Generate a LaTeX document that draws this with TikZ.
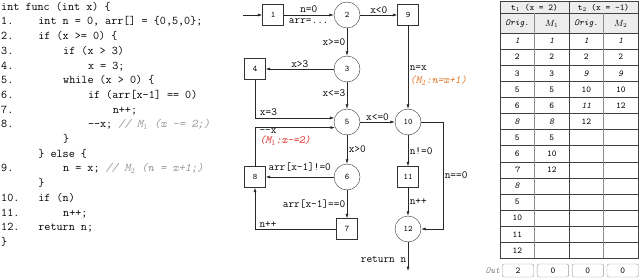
\documentclass[tikz,border=0pt]{standalone}
\usepackage{amsmath, amssymb}
\usepackage{tikz}
\usetikzlibrary{calc}
\usetikzlibrary{positioning}
\usetikzlibrary{arrows.meta}
\usepackage{xcolor}
\definecolor{cmt}{gray}{0.6}
\definecolor{mone}{HTML}{E0302A}
\definecolor{mtwo}{HTML}{E0782A}

\begin{document}
\begin{tikzpicture}[
	x=1pt, y=-1pt,
	>={Latex[length=4.5pt, width=3pt]},
	c/.style={circle, draw=black!80, thin, minimum size=26, inner sep=0, font=\fontsize{8.5}{9}\selectfont\ttfamily},
	b/.style={rectangle, draw=black!80, thin, minimum size=21, inner sep=0, font=\fontsize{8.5}{9}\selectfont\ttfamily},
	l/.style={inner sep=1.5, font=\fontsize{11}{12}\selectfont\ttfamily},
	code/.style={anchor=base west, inner sep=0, font=\fontsize{11.8}{14}\selectfont\ttfamily},
	e/.style={->, line width=0.6, draw=black!85},
	tl/.style={line width=0.6, draw=black!75},
	cell/.style={inner sep=0, font=\fontsize{9}{10}\selectfont\ttfamily},
	outbox/.style={rectangle, rounded corners=2, draw=black!40, minimum width=31.5, minimum height=13, inner sep=0, font=\fontsize{9}{10}\selectfont\ttfamily},
	]
	\useasboundingbox (0,0) rectangle (639,278);
	
	%Code
	\foreach \n/\r in {1/1, 2/2, 3/3, 4/4, 5/5, 6/6, 7/7, 8/8, 9/11, 10/13, 11/14, 12/15}
		\node[code] (num\n) at (1, {10.2+14.7*\r}) {\n.};
	\node[code] (cl0)  at (1,10.2)      {int func (int x) \{};
	\node[code] (cl1)  at (38.2,24.9)   {int n = 0, arr[] = \{0,5,0\};};
	\node[code] (cl2)  at (38.2,39.6)   {if (x >= 0) \{};
	\node[code] (cl3)  at (63,54.3)     {if (x > 3)};
	\node[code] (cl4)  at (87.8,69)     {x = 3;};
	\node[code] (cl5)  at (63,83.7)     {while (x > 0) \{};
	\node[code] (cl6)  at (87.8,98.4)   {if (arr[x-1] == 0)};
	\node[code] (cl7)  at (112.6,113.1) {n++;};
	\node[code] (cl8)  at (87.8,127.8)  {-{}-x; {\color{cmt}\itshape // M$_1$ (x -= 2;)}};
	\node[code] (cl9)  at (63,142.5)    {\}};
	\node[code] (cl10) at (38.2,157.2)  {\} else \{};
	\node[code] (cl11) at (63,171.9)    {n = x; {\color{cmt}\itshape // M$_2$ (n = x+1;)}};
	\node[code] (cl12) at (38.2,186.6)  {\}};
	\node[code] (cl13) at (38.2,201.3)  {if (n)};
	\node[code] (cl14) at (63,216)      {n++;};
	\node[code] (cl15) at (38.2,230.7)  {return n;};
	\node[code] (cl16) at (1,245.4)     {\}};
	
	%Nodes
	\node[b]    (b1)    at (273,15)     {1};
	\node[c]    (c2)    at (347,15)     {2};
	\node[b]    (b9)    at (408,15)     {9};
	\node[c]    (c3)    at (347,69)     {3};
	\node[b]    (b4)    at (255,69)     {4};
	\node[c]    (c5)    at (347,122)    {5};
	\node[c]    (c10)   at (408,122)    {10};
	\node[c]    (c6)    at (347,177)    {6};
	\node[b]    (b8)    at (255,177)    {8};
	\node[b]    (b7)    at (347,229)    {7};
	\node[b]    (b11)   at (408,177)    {11};
	\node[c]    (c12)   at (408,229)    {12};
	\coordinate (start) at (243,15);
	\coordinate (side)  at (443,122);
	\coordinate (end)   at (408,271);
	
	%Lines
	\draw[e] (start) to (b1);
	\draw[e] (b1)  to node[l, above=1pt] {n=0} node[l, below=1.5pt] {arr=...} (c2);
	\draw[e] (c2)  to node[l, above] {x<0}  (b9);
	\draw[e] (c2)  to node[l, left]  {x>=0} (c3);
	\draw[e] (c3)  to node[l, above] {x>3}  (b4);
	\draw[e] (c3)  to node[l, left, pos=0.4] {x<=3} (c5);
	\draw[e] (b4.south) |- node[l, above right, pos=0.52] {x=3} (c5.162);
	\draw[e] (b8.north) |- node[l, below right, pos=0.52, align=left, inner sep=1] {-{}-x\\[-2pt]{\color{mone}\itshape (M$_1$:x-=2)}} (c5.205);
	\draw[e] (c5)  to node[l, above] {x<=0} (c10);
	\draw[e] (b9)  to node[l, right, pos=0.6, align=left] {n=x\\[1pt]{\color{mtwo}\itshape (M$_2$:n=x+1)}} (c10);
	\draw[e] (c5)  to node[l, right] {x>0} (c6);
	\draw[e] (c6)  to node[l, above=4pt] {arr[x-1]!=0} (b8);
	\draw[e] (c6)  to node[l, left]  {arr[x-1]==0} (b7);
	\draw[e] (b7.west) -| node[l, above, pos=0.42] {n++} (b8.south);
	\draw[e] (c10) to node[l, right] {n!=0} (b11);
	\draw[e] (b11) to node[l, right] {n++}  (c12);
	\draw[e] (c10.east) -- (side) |- node[l, right, pos=0.25] {n==0} (c12.east);
	\draw[e] (c12) to node[l, left, pos=0.6] {return n} (end);
	
	%Table
	\fill[black!7] (500,1) rectangle (638,33);
	\foreach \i in {0,...,14}
		\draw[tl] (500,{33+16.1*\i}) -- (638,{33+16.1*\i});
	\draw[tl] (500,13.5) -- (638,13.5);
	\draw[tl] (569,1) -- (569,258.4);
	\draw[tl, draw=black!45] (534.5,13.5) -- (534.5,258.4);
	\draw[tl, draw=black!45] (603.5,13.5) -- (603.5,258.4);
	\draw[tl] (500,1) rectangle (638,258.4);
	
	\node[cell] (h1) at (534.5,7.5) {t$_1$ (x = 2)};
	\node[cell] (h2) at (603.5,7.5) {t$_2$ (x = -1)};
	\node[cell] (s1) at (517.25,23.5) {\itshape Orig.};
	\node[cell] (s2) at (551.75,23.5) {$M_1$};
	\node[cell] (s3) at (586.25,23.5) {\itshape Orig.};
	\node[cell] (s4) at (620.75,23.5) {$M_2$};
	
	\foreach \i/\va/\vb/\vc/\vd in {
		1/\textit{1}/\textit{1}/\textit{1}/\textit{1},
		2/2/2/2/2,
		3/3/3/\textit{9}/\textit{9},
		4/5/5/10/10,
		5/6/6/\textit{11}/12,
		6/\textit{8}/\textit{8}/12/{},
		7/5/5/{}/{},
		8/6/10/{}/{},
		9/\textit{7}/12/{}/{},
		10/\textit{8}/{}/{}/{},
		11/5/{}/{}/{},
		12/10/{}/{}/{},
		13/11/{}/{}/{},
		14/12/{}/{}/{}}{
		\node[cell] (ta\i) at (517.25,{24.95+16.1*\i}) {\va};
		\node[cell] (tb\i) at (551.75,{24.95+16.1*\i}) {\vb};
		\node[cell] (tc\i) at (586.25,{24.95+16.1*\i}) {\vc};
		\node[cell] (td\i) at (620.75,{24.95+16.1*\i}) {\vd};
	}
	
	%Out
	\node[cell, anchor=east, text=black!50, font=\fontsize{9}{10}\selectfont\ttfamily\itshape] (outl) at (500,270.5) {Out};
	\node[outbox] (o1) at (518,270.5) {2};
	\node[outbox] (o2) [right=3pt of o1] {0};
	\node[outbox] (o3) [right=3pt of o2] {0};
	\node[outbox] (o4) [right=3pt of o3] {0};
\end{tikzpicture}
\end{document}
